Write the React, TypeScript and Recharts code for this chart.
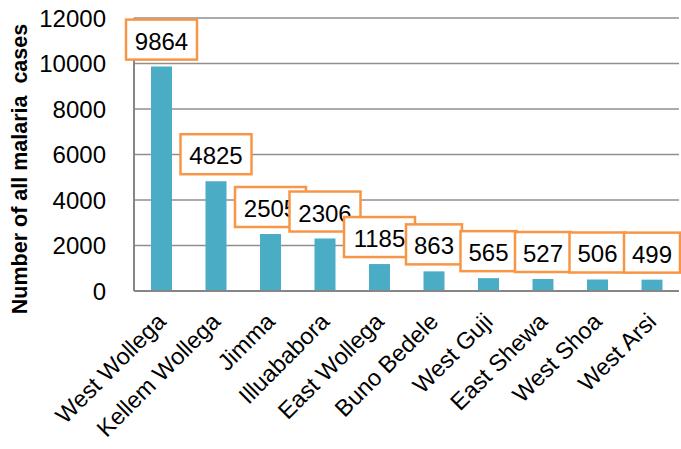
import { Bar, BarChart, CartesianGrid, LabelList, XAxis, YAxis } from 'recharts';

const regions = [
  'West Wollega',
  'Kellem Wollega',
  'Jimma',
  'Illuababora',
  'East Wollega',
  'Buno Bedele',
  'West Guji',
  'East Shewa',
  'West Shoa',
  'West Arsi',
];
const malariaCases = [9864, 4825, 2505, 2306, 1185, 863, 565, 527, 506, 499];
const yTicks = [0, 2000, 4000, 6000, 8000, 10000, 12000];

const data = regions.map((region, i) => ({ region, cases: malariaCases[i] }));

const FONT = '"Liberation Sans", Arial, sans-serif';
const AXIS_GREY = '#868686';

// orange framed value box sitting just above each bar
function ValueBox(props: any) {
  const { x, y, width, value } = props;
  const w = String(value).length > 3 ? 71 : 56;
  const h = 40;
  const cx = x + width / 2;
  const bottom = y - 7;
  return (
    <g>
      <rect x={cx - w / 2} y={bottom - h} width={w} height={h} fill="#fff" stroke="#F79646" strokeWidth={2.5} />
      <text x={cx} y={bottom - 10} textAnchor="middle" fontSize={24} fontFamily={FONT} fill="#000">
        {value}
      </text>
    </g>
  );
}

function RegionTick(props: any) {
  const { x, y, payload } = props;
  return (
    <g transform={`translate(${x + 6},${y + 24})`}>
      <text textAnchor="end" transform="rotate(-45)" fontSize={23.5} fontFamily={FONT} fill="#000">
        {payload.value}
      </text>
    </g>
  );
}

function YTitle() {
  return (
    <text
      transform="translate(27,169) rotate(-90)"
      textAnchor="middle"
      fontSize={21.5}
      fontWeight="bold"
      fontFamily={FONT}
      fill="#000"
      style={{ whiteSpace: 'pre' }}
    >
      Number of all malaria  cases
    </text>
  );
}

export default function App() {
  return (
    <div style={{ position: 'absolute', left: 0, top: 0, background: '#fff' }}>
      <BarChart
        width={681}
        height={449}
        data={data}
        margin={{ top: 18, right: 2, left: 0, bottom: 0 }}
        barSize={21}
      >
        <CartesianGrid vertical={false} stroke="#8f8f8f" strokeWidth={1.5} />
        <XAxis
          dataKey="region"
          interval={0}
          height={158}
          tickLine={false}
          tick={<RegionTick />}
          axisLine={{ stroke: AXIS_GREY, strokeWidth: 2 }}
        />
        <YAxis
          width={134}
          domain={[0, 12000]}
          ticks={yTicks}
          tickLine={false}
          tickMargin={22}
          axisLine={{ stroke: AXIS_GREY, strokeWidth: 2 }}
          tick={{ fontSize: 24, fontFamily: FONT, fill: '#000' }}
          label={{ content: () => <YTitle /> }}
        />
        <Bar dataKey="cases" fill="#4BACC6" isAnimationActive={false}>
          <LabelList dataKey="cases" content={<ValueBox />} />
        </Bar>
      </BarChart>
    </div>
  );
}
